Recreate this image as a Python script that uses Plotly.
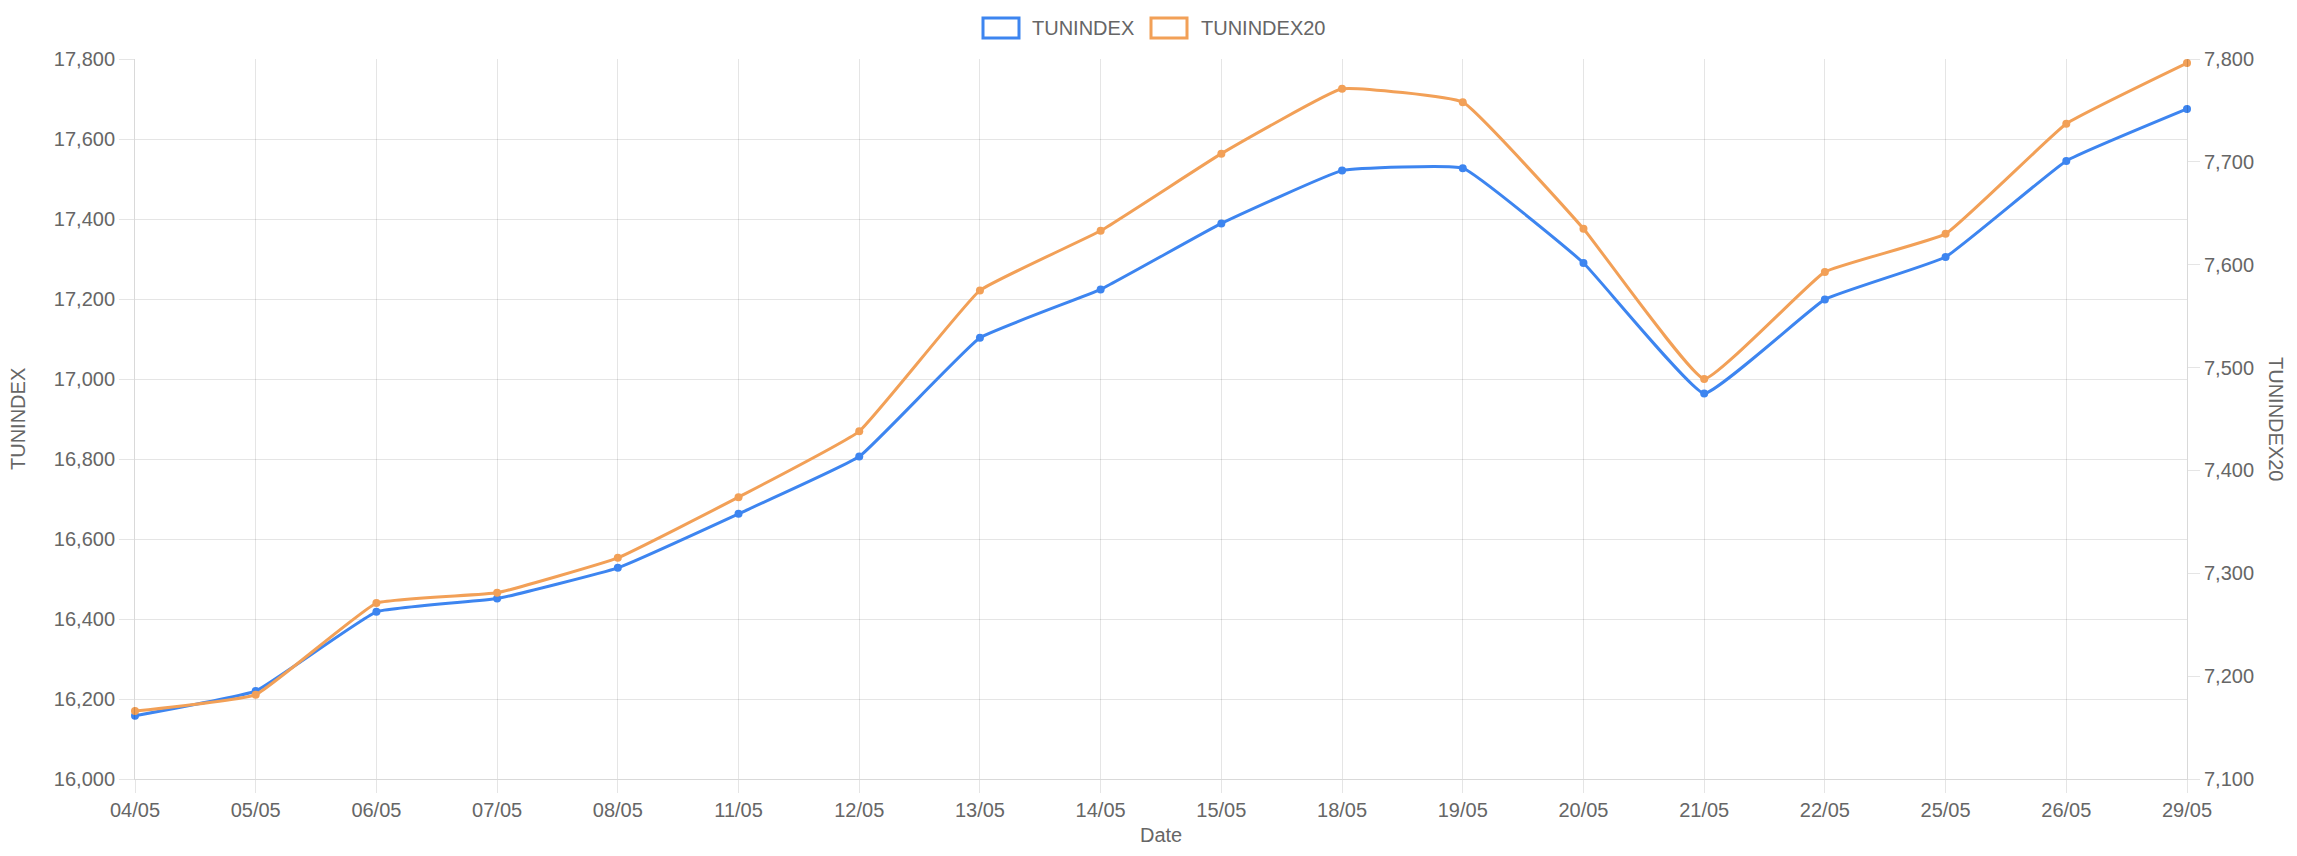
import plotly.graph_objects as go

dates = ["04/05", "05/05", "06/05", "07/05", "08/05", "11/05", "12/05", "13/05", "14/05",
         "15/05", "18/05", "19/05", "20/05", "21/05", "22/05", "25/05", "26/05", "29/05"]
tunindex = [16158, 16220, 16418, 16451, 16528, 16663, 16806, 17103, 17224,
            17389, 17521, 17527, 17290, 16964, 17199, 17305, 17545, 17675]
tunindex20 = [7166, 7182, 7271, 7281, 7315, 7374, 7438, 7575, 7633,
              7708, 7771, 7758, 7635, 7489, 7593, 7630, 7737, 7796]

left_ticks = list(range(16000, 17801, 200))
right_ticks = list(range(7100, 7801, 100))

BLUE = "#3d85f0"
ORANGE = "#f2a057"
TXT = "#666666"
GRID = "rgba(0,0,0,0.1)"
FONT = "Liberation Sans, Arial, sans-serif"
FS = 20

W, H = 2281, 840
L, R, T, B = 127, 102, 51, 69
PW, PH = W - L - R, H - T - B


def px(fx):
    return (fx - L) / PW


def py(fy):
    return (H - B - fy) / PH


fig = go.Figure()
fig.add_trace(go.Scatter(
    x=dates, y=tunindex, name="TUNINDEX", mode="lines+markers",
    line=dict(color=BLUE, width=3, shape="spline", smoothing=0.3),
    marker=dict(color=BLUE, size=8), cliponaxis=False, yaxis="y"))
fig.add_trace(go.Scatter(
    x=dates, y=tunindex20, name="TUNINDEX20", mode="lines+markers",
    line=dict(color=ORANGE, width=3, shape="spline", smoothing=0.3),
    marker=dict(color=ORANGE, size=8), cliponaxis=False, yaxis="y2"))

# Legend drawn as outlined boxes + labels (Chart.js style)
legend_items = [("TUNINDEX", BLUE, 975, 1022), ("TUNINDEX20", ORANGE, 1143, 1191)]
shapes = []
annotations = []
for name, col, bx, tx in legend_items:
    shapes.append(dict(type="rect", xref="paper", yref="paper",
                       x0=px(bx), x1=px(bx + 36), y0=py(30), y1=py(10),
                       line=dict(color=col, width=3), fillcolor="white", layer="above"))
    annotations.append(dict(text=name, xref="paper", yref="paper", x=px(tx), y=py(20),
                            xanchor="left", yanchor="middle", showarrow=False,
                            font=dict(size=FS, color=TXT)))

annotations += [
    dict(text="TUNINDEX", xref="paper", yref="paper", x=px(10), y=0.5,
         xanchor="center", yanchor="middle", textangle=-90, showarrow=False,
         font=dict(size=FS, color=TXT)),
    dict(text="TUNINDEX20", xref="paper", yref="paper", x=px(2268), y=0.5,
         xanchor="center", yanchor="middle", textangle=90, showarrow=False,
         font=dict(size=FS, color=TXT)),
    dict(text="Date", xref="paper", yref="paper", x=0.5, y=py(827),
         xanchor="center", yanchor="middle", showarrow=False,
         font=dict(size=FS, color=TXT)),
]

fig.update_layout(
    width=W, height=H,
    margin=dict(l=L, r=R, t=T, b=B),
    paper_bgcolor="white", plot_bgcolor="white",
    font=dict(family=FONT, size=FS, color=TXT),
    showlegend=False,
    xaxis=dict(type="category", range=[0, 17], showgrid=True, gridcolor=GRID,
               ticks="outside", ticklen=13, tickcolor=GRID, showline=True,
               linecolor="rgba(0,0,0,0.15)", zeroline=False,
               tickfont=dict(size=FS, color=TXT)),
    yaxis=dict(range=[16000, 17800], tickvals=left_ticks, tickformat=",d",
               showgrid=True, gridcolor=GRID, ticks="outside", ticklen=15,
               tickcolor=GRID, showline=True, linecolor="rgba(0,0,0,0.15)",
               zeroline=False, tickfont=dict(size=FS, color=TXT)),
    yaxis2=dict(range=[7100, 7800], tickvals=right_ticks, tickformat=",d",
                overlaying="y", side="right", showgrid=False, ticks="outside",
                ticklen=12, tickcolor=GRID, showline=True,
                linecolor="rgba(0,0,0,0.15)", zeroline=False,
                tickfont=dict(size=FS, color=TXT)),
    shapes=shapes,
    annotations=annotations,
)

fig.write_html("out.html")
